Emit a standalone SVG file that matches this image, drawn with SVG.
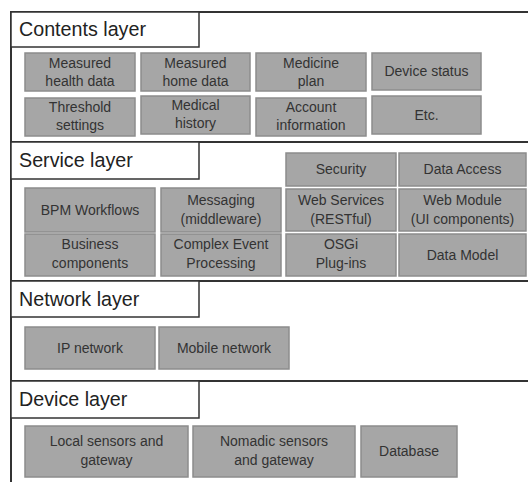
<svg xmlns="http://www.w3.org/2000/svg" width="528" height="482" viewBox="0 0 528 482">
<style>
.frame{stroke:#333;stroke-width:2;fill:none}
.title{fill:#fff;stroke:#333;stroke-width:1.5}
.tt{font-family:"Liberation Sans",Arial,sans-serif;font-size:19.7px;fill:#222}
.box{fill:#a6a6a6;stroke:#8c8c8c;stroke-width:1.5}
.t{font-family:"Liberation Sans",Arial,sans-serif;font-size:14px;fill:#333;text-anchor:middle}
</style>
<rect width="528" height="482" fill="#fff"/>
<g id="frame">
<line class="frame" x1="11" y1="12" x2="528" y2="12"/>
<line class="frame" x1="11" y1="142" x2="528" y2="142"/>
<line class="frame" x1="11" y1="281" x2="528" y2="281"/>
<line class="frame" x1="11" y1="381" x2="528" y2="381"/>
<line class="frame" x1="11" y1="11" x2="11" y2="482"/>
</g>
<g id="contents-layer">
<rect class="title" x="11" y="12" width="188" height="35"/>
<text class="tt" x="19" y="36">Contents layer</text>
</g>
<g id="measured-health"><rect class="box" x="25" y="53" width="110" height="38"/><text class="t" x="80" y="68">Measured</text><text class="t" x="80" y="86">health data</text></g>
<g id="measured-home"><rect class="box" x="141" y="53" width="109" height="38"/><text class="t" x="195.5" y="68">Measured</text><text class="t" x="195.5" y="86">home data</text></g>
<g id="medicine"><rect class="box" x="256" y="53" width="110" height="38"/><text class="t" x="311" y="68">Medicine</text><text class="t" x="311" y="86">plan</text></g>
<g id="device-status"><rect class="box" x="372" y="53" width="109" height="37"/><text class="t" x="426.5" y="76">Device status</text></g>
<g id="threshold"><rect class="box" x="25" y="98" width="110" height="38"/><text class="t" x="80" y="112">Threshold</text><text class="t" x="80" y="130">settings</text></g>
<g id="medical-history"><rect class="box" x="141" y="96" width="109" height="38"/><text class="t" x="195.5" y="110">Medical</text><text class="t" x="195.5" y="128">history</text></g>
<g id="account"><rect class="box" x="256" y="98" width="110" height="38"/><text class="t" x="311" y="112">Account</text><text class="t" x="311" y="130">information</text></g>
<g id="etc"><rect class="box" x="372" y="96" width="109" height="38"/><text class="t" x="426.5" y="120">Etc.</text></g>

<g id="service-layer">
<rect class="title" x="11" y="142" width="188" height="37"/>
<text class="tt" x="19" y="167">Service layer</text>
</g>
<g id="security"><rect class="box" x="286" y="153" width="110" height="33"/><text class="t" x="341" y="174">Security</text></g>
<g id="data-access"><rect class="box" x="399" y="153" width="127" height="33"/><text class="t" x="462.5" y="174">Data Access</text></g>
<g id="bpm"><rect class="box" x="25" y="188" width="130" height="44"/><text class="t" x="90" y="215">BPM Workflows</text></g>
<g id="messaging"><rect class="box" x="161" y="188" width="120" height="44"/><text class="t" x="221" y="205">Messaging</text><text class="t" x="221" y="224">(middleware)</text></g>
<g id="web-services"><rect class="box" x="286" y="189" width="110" height="42"/><text class="t" x="341" y="205">Web Services</text><text class="t" x="341" y="224">(RESTful)</text></g>
<g id="web-module"><rect class="box" x="399" y="189" width="127" height="42"/><text class="t" x="462.5" y="205">Web Module</text><text class="t" x="462.5" y="224">(UI components)</text></g>
<g id="business"><rect class="box" x="25" y="234" width="130" height="42"/><text class="t" x="90" y="249">Business</text><text class="t" x="90" y="268">components</text></g>
<g id="cep"><rect class="box" x="161" y="234" width="120" height="42"/><text class="t" x="221" y="249">Complex Event</text><text class="t" x="221" y="268">Processing</text></g>
<g id="osgi"><rect class="box" x="286" y="234" width="110" height="42"/><text class="t" x="341" y="249">OSGi</text><text class="t" x="341" y="268">Plug-ins</text></g>
<g id="data-model"><rect class="box" x="399" y="234" width="127" height="42"/><text class="t" x="462.5" y="260">Data Model</text></g>

<g id="network-layer">
<rect class="title" x="11" y="281" width="188" height="36"/>
<text class="tt" x="19" y="306">Network layer</text>
</g>
<g id="ip-network"><rect class="box" x="25" y="327" width="130" height="42"/><text class="t" x="90" y="353">IP network</text></g>
<g id="mobile-network"><rect class="box" x="159" y="327" width="130" height="42"/><text class="t" x="224" y="353">Mobile network</text></g>

<g id="device-layer">
<rect class="title" x="11" y="381" width="188" height="37"/>
<text class="tt" x="19" y="406">Device layer</text>
</g>
<g id="local-sensors"><rect class="box" x="25" y="426" width="163" height="51"/><text class="t" x="106.5" y="446">Local sensors and</text><text class="t" x="106.5" y="465">gateway</text></g>
<g id="nomadic-sensors"><rect class="box" x="193" y="426" width="162" height="51"/><text class="t" x="274" y="446">Nomadic sensors</text><text class="t" x="274" y="465">and gateway</text></g>
<g id="database"><rect class="box" x="361" y="426" width="96" height="51"/><text class="t" x="409" y="456">Database</text></g>
</svg>
